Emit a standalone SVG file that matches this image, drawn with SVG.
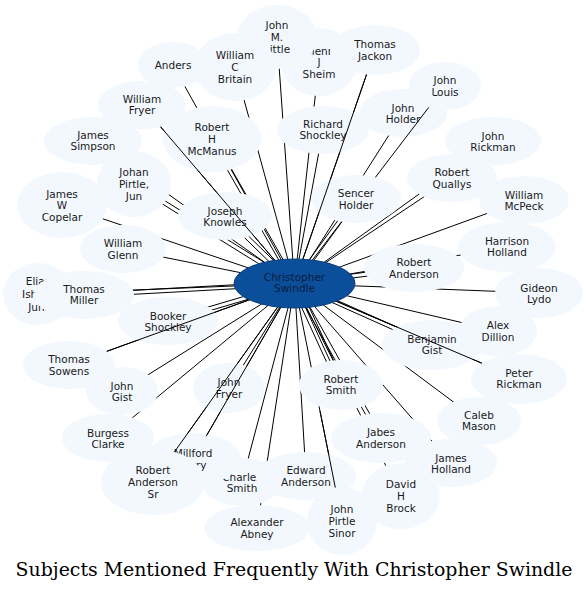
<svg xmlns="http://www.w3.org/2000/svg" width="588" height="591" viewBox="0 0 588 591">
<style>
.n ellipse{fill:#f3f8fe}
.n text{font-family:"DejaVu Sans","Liberation Sans",sans-serif;font-size:10.5px;fill:#1a1a1a;text-anchor:middle}
.e line{stroke:#000;stroke-width:1}
.c ellipse{fill:#0b4f9a;stroke:#073f7e;stroke-width:1}
.c text{font-family:"DejaVu Sans","Liberation Sans",sans-serif;font-size:10.5px;fill:#0a1c3c;text-anchor:middle}
.title{font-family:"DejaVu Serif","Liberation Serif",serif;font-size:18.9px;fill:#000;text-anchor:middle}
</style>
<rect width="588" height="591" fill="#fff"/>
<g id="edges" class="e">
<line x1="294.5" y1="283.5" x2="173" y2="65"/>
<line x1="294.5" y1="283.5" x2="235" y2="67"/>
<line x1="294.5" y1="283.5" x2="277" y2="37"/>
<line x1="294.5" y1="283.5" x2="319" y2="62"/>
<line x1="294.5" y1="283.5" x2="375" y2="50"/>
<line x1="294.5" y1="283.5" x2="445" y2="86"/>
<line x1="294.5" y1="283.5" x2="403" y2="113"/>
<line x1="294.5" y1="283.5" x2="493" y2="141"/>
<line x1="294.5" y1="283.5" x2="452" y2="178"/>
<line x1="294.5" y1="283.5" x2="524" y2="200"/>
<line x1="294.5" y1="283.5" x2="507" y2="247"/>
<line x1="294.5" y1="283.5" x2="539" y2="293"/>
<line x1="294.5" y1="283.5" x2="498" y2="331"/>
<line x1="294.5" y1="283.5" x2="519" y2="379"/>
<line x1="294.5" y1="283.5" x2="479" y2="421"/>
<line x1="294.5" y1="283.5" x2="451" y2="463"/>
<line x1="294.5" y1="283.5" x2="401" y2="496"/>
<line x1="294.5" y1="283.5" x2="342" y2="521"/>
<line x1="294.5" y1="283.5" x2="306" y2="476"/>
<line x1="294.5" y1="283.5" x2="257" y2="528"/>
<line x1="294.5" y1="283.5" x2="242" y2="482"/>
<line x1="294.5" y1="283.5" x2="229" y2="388"/>
<line x1="294.5" y1="283.5" x2="193" y2="459"/>
<line x1="294.5" y1="283.5" x2="153" y2="482"/>
<line x1="294.5" y1="283.5" x2="108" y2="438"/>
<line x1="294.5" y1="283.5" x2="122" y2="391"/>
<line x1="294.5" y1="283.5" x2="69" y2="365"/>
<line x1="294.5" y1="283.5" x2="38" y2="294"/>
<line x1="294.5" y1="283.5" x2="123" y2="249"/>
<line x1="294.5" y1="283.5" x2="62" y2="205"/>
<line x1="294.5" y1="283.5" x2="93" y2="141"/>
<line x1="294.5" y1="283.5" x2="142" y2="105"/>
<line x1="294.5" y1="283.5" x2="323" y2="130"/>
<line x1="296.2" y1="282.5" x2="213.7" y2="138"/>
<line x1="292.8" y1="284.5" x2="210.3" y2="140"/>
<line x1="295.6" y1="281.8" x2="135.1" y2="182.3"/>
<line x1="293.4" y1="285.2" x2="132.9" y2="185.7"/>
<line x1="294.6" y1="285.5" x2="84.1" y2="297"/>
<line x1="294.4" y1="281.5" x2="83.9" y2="293"/>
<line x1="294.8" y1="285.5" x2="414.3" y2="270"/>
<line x1="294.2" y1="281.5" x2="413.7" y2="266"/>
<line x1="293.7" y1="285.3" x2="431.2" y2="346.8"/>
<line x1="295.3" y1="281.7" x2="432.8" y2="343.2"/>
<line x1="294.5" y1="283.5" x2="341" y2="385"/>
<line x1="291.3" y1="285" x2="337.8" y2="386.5"/>
<line x1="297.7" y1="282" x2="344.2" y2="383.5"/>
<line x1="296.1" y1="284.7" x2="357.6" y2="200.2"/>
<line x1="292.9" y1="282.3" x2="354.4" y2="197.8"/>
<line x1="293.9" y1="281.6" x2="167.4" y2="319.1"/>
<line x1="295.1" y1="285.4" x2="168.6" y2="322.9"/>
<line x1="295.9" y1="282.1" x2="226.4" y2="214.6"/>
<line x1="293.1" y1="284.9" x2="223.6" y2="217.4"/>
<line x1="292.8" y1="284.5" x2="379.3" y2="439"/>
<line x1="296.2" y1="282.5" x2="382.7" y2="437"/>
</g>
<g id="nodes">
<g id="n-sheim" class="n"><ellipse cx="319" cy="62" rx="38" ry="34"/><text x="319" y="54.8">Glenn</text><text x="319" y="65.8">J</text><text x="319" y="77.8">Sheim</text></g>
<g id="n-little" class="n"><ellipse cx="277" cy="37" rx="40" ry="32"/><text x="277" y="28.8">John</text><text x="277" y="40.8">M.</text><text x="277" y="52.8">Little</text></g>
<g id="n-britain" class="n"><ellipse cx="235" cy="67" rx="41" ry="34"/><text x="235" y="58.8">William</text><text x="235" y="70.8">C</text><text x="235" y="82.8">Britain</text></g>
<g id="n-anders" class="n"><ellipse cx="173" cy="65" rx="35" ry="23"/><text x="173" y="68.8">Anders</text></g>
<g id="n-jackon" class="n"><ellipse cx="375" cy="50" rx="45" ry="25"/><text x="375" y="47.8">Thomas</text><text x="375" y="59.8">Jackon</text></g>
<g id="n-louis" class="n"><ellipse cx="445" cy="86" rx="36" ry="24"/><text x="445" y="83.8">John</text><text x="445" y="95.8">Louis</text></g>
<g id="n-jholder" class="n"><ellipse cx="403" cy="113" rx="44" ry="24"/><text x="403" y="111.8">John</text><text x="403" y="122.8">Holder</text></g>
<g id="n-jrickman" class="n"><ellipse cx="493" cy="141" rx="48" ry="24"/><text x="493" y="139.8">John</text><text x="493" y="150.8">Rickman</text></g>
<g id="n-quallys" class="n"><ellipse cx="452" cy="178" rx="45" ry="24"/><text x="452" y="175.8">Robert</text><text x="452" y="187.8">Quallys</text></g>
<g id="n-mcpeck" class="n"><ellipse cx="524" cy="200" rx="45" ry="24"/><text x="524" y="198.8">William</text><text x="524" y="209.8">McPeck</text></g>
<g id="n-hholland" class="n"><ellipse cx="507" cy="247" rx="49" ry="25"/><text x="507" y="244.8">Harrison</text><text x="507" y="255.8">Holland</text></g>
<g id="n-randerson" class="n"><ellipse cx="414" cy="268" rx="50" ry="24"/><text x="414" y="265.8">Robert</text><text x="414" y="277.8">Anderson</text></g>
<g id="n-lydo" class="n"><ellipse cx="539" cy="293" rx="44" ry="25"/><text x="539" y="291.8">Gideon</text><text x="539" y="302.8">Lydo</text></g>
<g id="n-dillion" class="n"><ellipse cx="498" cy="331" rx="39" ry="25"/><text x="498" y="328.8">Alex</text><text x="498" y="340.8">Dillion</text></g>
<g id="n-bgist" class="n"><ellipse cx="432" cy="345" rx="50" ry="25"/><text x="432" y="342.8">Benjamin</text><text x="432" y="353.8">Gist</text></g>
<g id="n-prickman" class="n"><ellipse cx="519" cy="379" rx="48" ry="25"/><text x="519" y="376.8">Peter</text><text x="519" y="387.8">Rickman</text></g>
<g id="n-mason" class="n"><ellipse cx="479" cy="421" rx="42" ry="24"/><text x="479" y="418.8">Caleb</text><text x="479" y="429.8">Mason</text></g>
<g id="n-jholland" class="n"><ellipse cx="451" cy="463" rx="46" ry="24"/><text x="451" y="461.8">James</text><text x="451" y="472.8">Holland</text></g>
<g id="n-jabes" class="n"><ellipse cx="381" cy="438" rx="50" ry="25"/><text x="381" y="435.8">Jabes</text><text x="381" y="447.8">Anderson</text></g>
<g id="n-brock" class="n"><ellipse cx="401" cy="496" rx="39" ry="33"/><text x="401" y="487.8">David</text><text x="401" y="499.8">H</text><text x="401" y="511.8">Brock</text></g>
<g id="n-rsmith" class="n"><ellipse cx="341" cy="385" rx="42" ry="25"/><text x="341" y="382.8">Robert</text><text x="341" y="393.8">Smith</text></g>
<g id="n-sinor" class="n"><ellipse cx="342" cy="521" rx="35" ry="34"/><text x="342" y="512.8">John</text><text x="342" y="524.8">Pirtle</text><text x="342" y="536.8">Sinor</text></g>
<g id="n-abney" class="n"><ellipse cx="257" cy="528" rx="53" ry="23"/><text x="257" y="525.8">Alexander</text><text x="257" y="537.8">Abney</text></g>
<g id="n-charles" class="n"><ellipse cx="242" cy="482" rx="40" ry="24"/><text x="242" y="480.8">Charles</text><text x="242" y="491.8">Smith</text></g>
<g id="n-edward" class="n"><ellipse cx="306" cy="476" rx="50" ry="24"/><text x="306" y="473.8">Edward</text><text x="306" y="485.8">Anderson</text></g>
<g id="n-jfryer" class="n"><ellipse cx="229" cy="388" rx="36" ry="25"/><text x="229" y="385.8">John</text><text x="229" y="397.8">Fryer</text></g>
<g id="n-millford" class="n"><ellipse cx="193" cy="459" rx="48" ry="26"/><text x="193" y="456.8">Millford</text><text x="193" y="468.8">Perry</text></g>
<g id="n-rasr" class="n"><ellipse cx="153" cy="482" rx="52" ry="33"/><text x="153" y="473.8">Robert</text><text x="153" y="485.8">Anderson</text><text x="153" y="497.8">Sr</text></g>
<g id="n-clarke" class="n"><ellipse cx="108" cy="438" rx="46" ry="24"/><text x="108" y="436.8">Burgess</text><text x="108" y="447.8">Clarke</text></g>
<g id="n-jgist" class="n"><ellipse cx="122" cy="391" rx="36" ry="24"/><text x="122" y="389.8">John</text><text x="122" y="400.8">Gist</text></g>
<g id="n-sowens" class="n"><ellipse cx="69" cy="365" rx="46" ry="24"/><text x="69" y="362.8">Thomas</text><text x="69" y="374.8">Sowens</text></g>
<g id="n-booker" class="n"><ellipse cx="168" cy="321" rx="50" ry="24"/><text x="168" y="319.8">Booker</text><text x="168" y="330.8">Shockley</text></g>
<g id="n-eli" class="n"><ellipse cx="38" cy="294" rx="35" ry="31"/><text x="38" y="284.8">Elias</text><text x="38" y="297.8">Isham</text><text x="38" y="310.8">Jun.</text></g>
<g id="n-tmiller" class="n"><ellipse cx="84" cy="295" rx="50" ry="24"/><text x="84" y="292.8">Thomas</text><text x="84" y="303.8">Miller</text></g>
<g id="n-wglenn" class="n"><ellipse cx="123" cy="249" rx="43" ry="24"/><text x="123" y="246.8">William</text><text x="123" y="258.8">Glenn</text></g>
<g id="n-copelar" class="n"><ellipse cx="62" cy="205" rx="45" ry="33"/><text x="62" y="197.8">James</text><text x="62" y="208.8">W</text><text x="62" y="220.8">Copelar</text></g>
<g id="n-johan" class="n"><ellipse cx="134" cy="184" rx="37" ry="33"/><text x="134" y="175.8">Johan</text><text x="134" y="187.8">Pirtle,</text><text x="134" y="199.8">Jun</text></g>
<g id="n-simpson" class="n"><ellipse cx="93" cy="141" rx="49" ry="24"/><text x="93" y="138.8">James</text><text x="93" y="149.8">Simpson</text></g>
<g id="n-wfryer" class="n"><ellipse cx="142" cy="105" rx="44" ry="24"/><text x="142" y="102.8">William</text><text x="142" y="113.8">Fryer</text></g>
<g id="n-mcmanus" class="n"><ellipse cx="212" cy="139" rx="49" ry="33"/><text x="212" y="130.8">Robert</text><text x="212" y="142.8">H</text><text x="212" y="154.8">McManus</text></g>
<g id="n-rshockley" class="n"><ellipse cx="323" cy="130" rx="46" ry="24"/><text x="323" y="127.8">Richard</text><text x="323" y="138.8">Shockley</text></g>
<g id="n-sencer" class="n"><ellipse cx="356" cy="199" rx="45" ry="24"/><text x="356" y="196.8">Sencer</text><text x="356" y="208.8">Holder</text></g>
<g id="n-knowles" class="n"><ellipse cx="225" cy="216" rx="47" ry="24"/><text x="225" y="214.8">Joseph</text><text x="225" y="225.8">Knowles</text></g>
</g>
<g id="edges-over" class="e">
<line x1="160.6" y1="126.8" x2="274.7" y2="260.3"/>
<line x1="366.5" y1="74.6" x2="302.9" y2="259.2"/>
<line x1="428.7" y1="107.4" x2="406.2" y2="137"/>
<line x1="336.2" y1="301.2" x2="481.8" y2="363.2"/>
<line x1="277.7" y1="307" x2="174.3" y2="452.1"/>
<line x1="280.7" y1="307.4" x2="206.2" y2="436.2"/>
<line x1="320" y1="411" x2="335.3" y2="487.6"/>
<line x1="249.4" y1="299.8" x2="106.8" y2="351.3"/>
</g>
<g id="n-christopher" class="c"><ellipse cx="294.5" cy="283.5" rx="60.5" ry="24.5"/><text x="294.5" y="280.8">Christopher</text><text x="294.5" y="291.8">Swindle</text></g>
<text class="title" x="294" y="576">Subjects Mentioned Frequently With Christopher Swindle</text>
</svg>
